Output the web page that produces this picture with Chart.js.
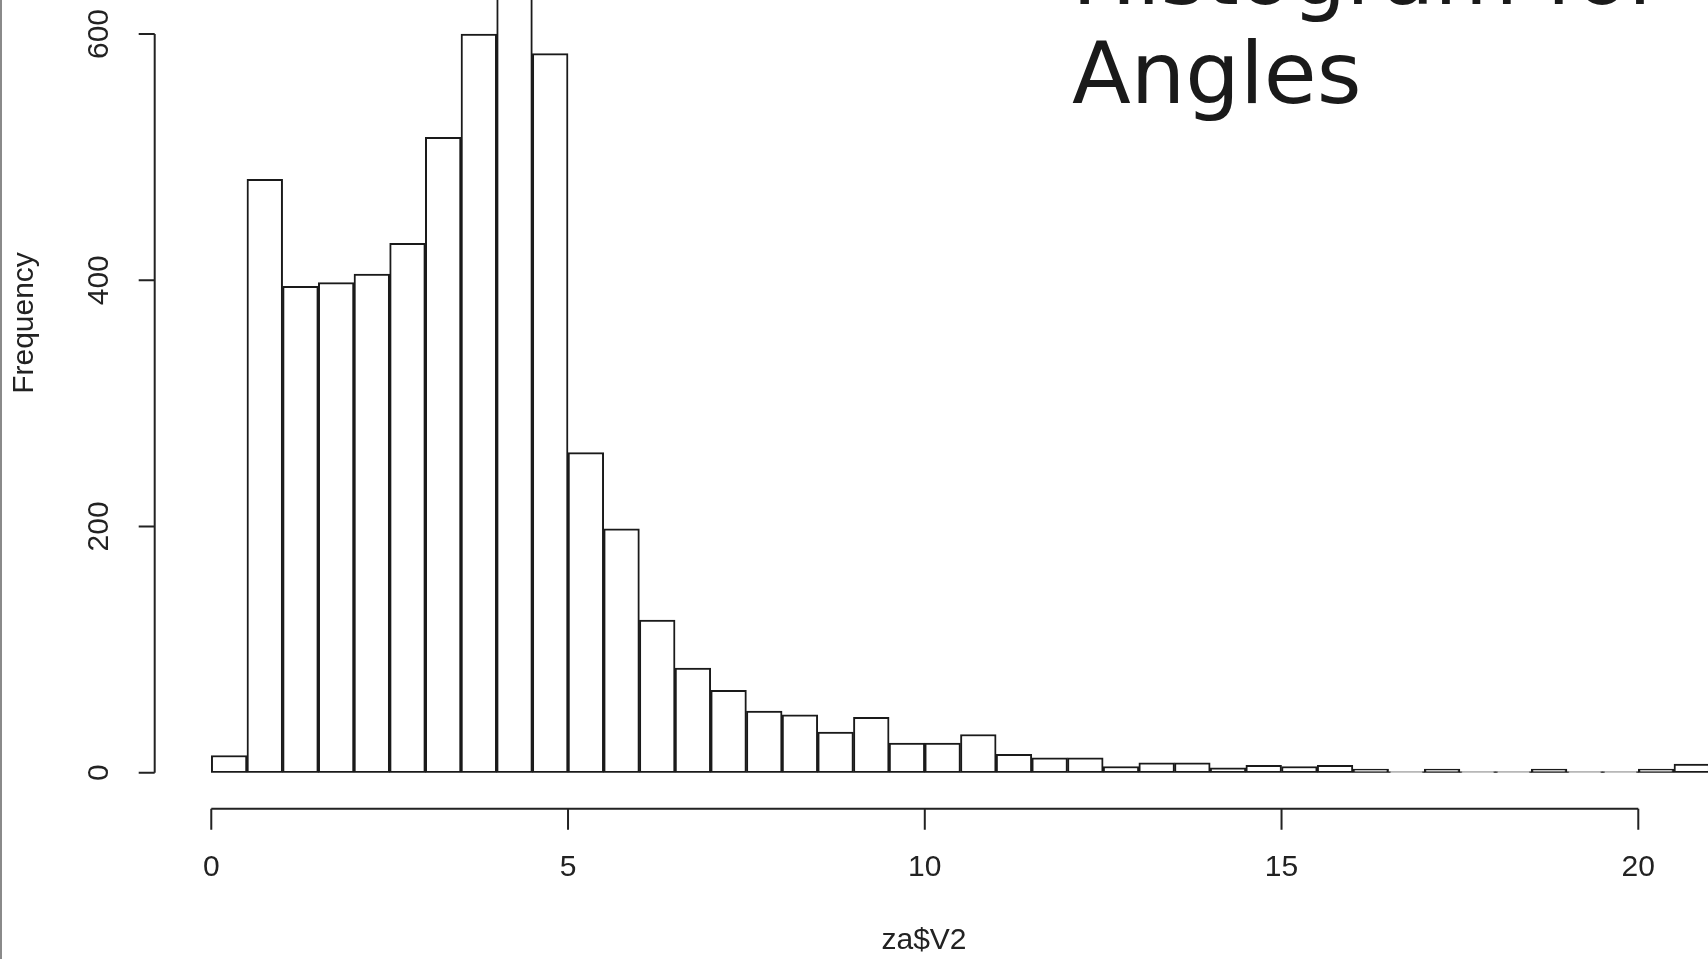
<!DOCTYPE html>
<html>
<head>
<meta charset="utf-8">
<script src="https://cdn.jsdelivr.net/npm/chart.js@4.4.1/dist/chart.umd.min.js"></script>
<style>
  html, body { margin: 0; padding: 0; background: #fff; overflow: hidden; }
  #wrap { position: relative; width: 1708px; height: 959px; }
  .title {
    position: absolute; left: 1072px;
    font: 86px/86px "DejaVu Sans", sans-serif; color: #1a1a1a; white-space: nowrap;
  }
  #edge { position: absolute; left: 0; top: 0; width: 2px; height: 959px; background: #8a8a8a; }
</style>
</head>
<body>
<div id="wrap">
  <canvas id="chart" width="1708" height="959"></canvas>
  <div id="edge"></div>
  <div class="title" style="top:-69px">Histogram for</div>
  <div class="title" style="top:30px">Angles</div>
</div>
<script>
// histogram of za$V2, bins of 0.5
const binWidth = 0.5;
const binStarts = [
  0, 0.5, 1, 1.5, 2, 2.5, 3, 3.5, 4, 4.5,
  5, 5.5, 6, 6.5, 7, 7.5, 8, 8.5, 9, 9.5,
  10, 10.5, 11, 11.5, 12, 12.5, 13, 13.5, 14, 14.5,
  15, 15.5, 16, 16.5, 17, 17.5, 18, 18.5, 19, 19.5,
  20, 20.5,
];
const counts = [
  14, 482, 395, 398, 405, 430, 516, 600, 660, 584,
  260, 198, 124, 85, 67, 50, 47, 33, 45, 24,
  24, 31, 15, 12, 12, 5, 8, 8, 4, 6,
  5, 6, 3, 1, 3, 1, 1, 3, 1, 1,
  3, 7,
];
const xTicks = [0, 5, 10, 15, 20];
const yTicks = [0, 200, 400, 600];

const axisFont = { family: "Liberation Sans", size: 30 };
const ink = "#222";

// R style axes: detached x axis, y axis only over the tick range, axis titles
const rAxes = {
  id: "rAxes",
  afterDraw(chart) {
    const { ctx, chartArea } = chart;
    const x = chart.scales.x;
    const y = chart.scales.y;
    ctx.save();
    ctx.strokeStyle = ink;
    ctx.lineWidth = 2;
    ctx.beginPath();
    const left = chartArea.left;
    ctx.moveTo(left, y.getPixelForValue(yTicks[0]));
    ctx.lineTo(left, y.getPixelForValue(yTicks[yTicks.length - 1]));
    yTicks.forEach((v) => {
      const p = y.getPixelForValue(v);
      ctx.moveTo(left, p);
      ctx.lineTo(left - 16, p);
    });
    const ax = chartArea.bottom + 36;
    ctx.moveTo(x.getPixelForValue(xTicks[0]), ax);
    ctx.lineTo(x.getPixelForValue(xTicks[xTicks.length - 1]), ax);
    xTicks.forEach((v) => {
      const p = x.getPixelForValue(v);
      ctx.moveTo(p, ax);
      ctx.lineTo(p, ax + 21);
    });
    ctx.stroke();

    ctx.fillStyle = ink;
    ctx.font = "30px 'Liberation Sans'";
    ctx.textAlign = "center";
    ctx.textBaseline = "middle";
    ctx.fillText("za$V2", 924, 941);
    ctx.translate(25, 323);
    ctx.rotate(-Math.PI / 2);
    ctx.fillText("Frequency", 0, 0);
    ctx.restore();
  },
};

new Chart(document.getElementById("chart"), {
  type: "bar",
  data: {
    datasets: [
      {
        data: binStarts.map((s, i) => ({ x: s + binWidth / 2, y: counts[i] })),
        backgroundColor: "#fff",
        borderColor: "#1a1a1a",
        borderWidth: 2,
        borderSkipped: false,
        barPercentage: 1,
        categoryPercentage: 1,
      },
    ],
  },
  options: {
    responsive: false,
    animation: false,
    devicePixelRatio: 1,
    layout: { padding: 0 },
    plugins: {
      legend: { display: false },
      tooltip: { enabled: false },
    },
    scales: {
      x: {
        type: "linear",
        offset: false,
        min: -0.793,
        max: 20.977,
        afterBuildTicks: (s) => { s.ticks = xTicks.map((v) => ({ value: v })); },
        afterFit: (s) => { s.height = 186.3; s.paddingLeft = 0; s.paddingRight = 0; },
        grid: { display: false, drawTicks: false },
        border: { display: false },
        ticks: { font: axisFont, color: ink, padding: 77, maxRotation: 0, autoSkip: false },
      },
      y: {
        min: 0,
        max: 627.6,
        afterBuildTicks: (s) => { s.ticks = yTicks.map((v) => ({ value: v })); },
        afterFit: (s) => { s.width = 154.7; s.paddingTop = 0; s.paddingBottom = 0; },
        grid: { display: false, drawTicks: false },
        border: { display: false },
        ticks: { font: axisFont, color: ink, padding: 30, minRotation: 90, maxRotation: 90, crossAlign: "center" },
      },
    },
  },
  plugins: [rAxes],
});
</script>
</body>
</html>
